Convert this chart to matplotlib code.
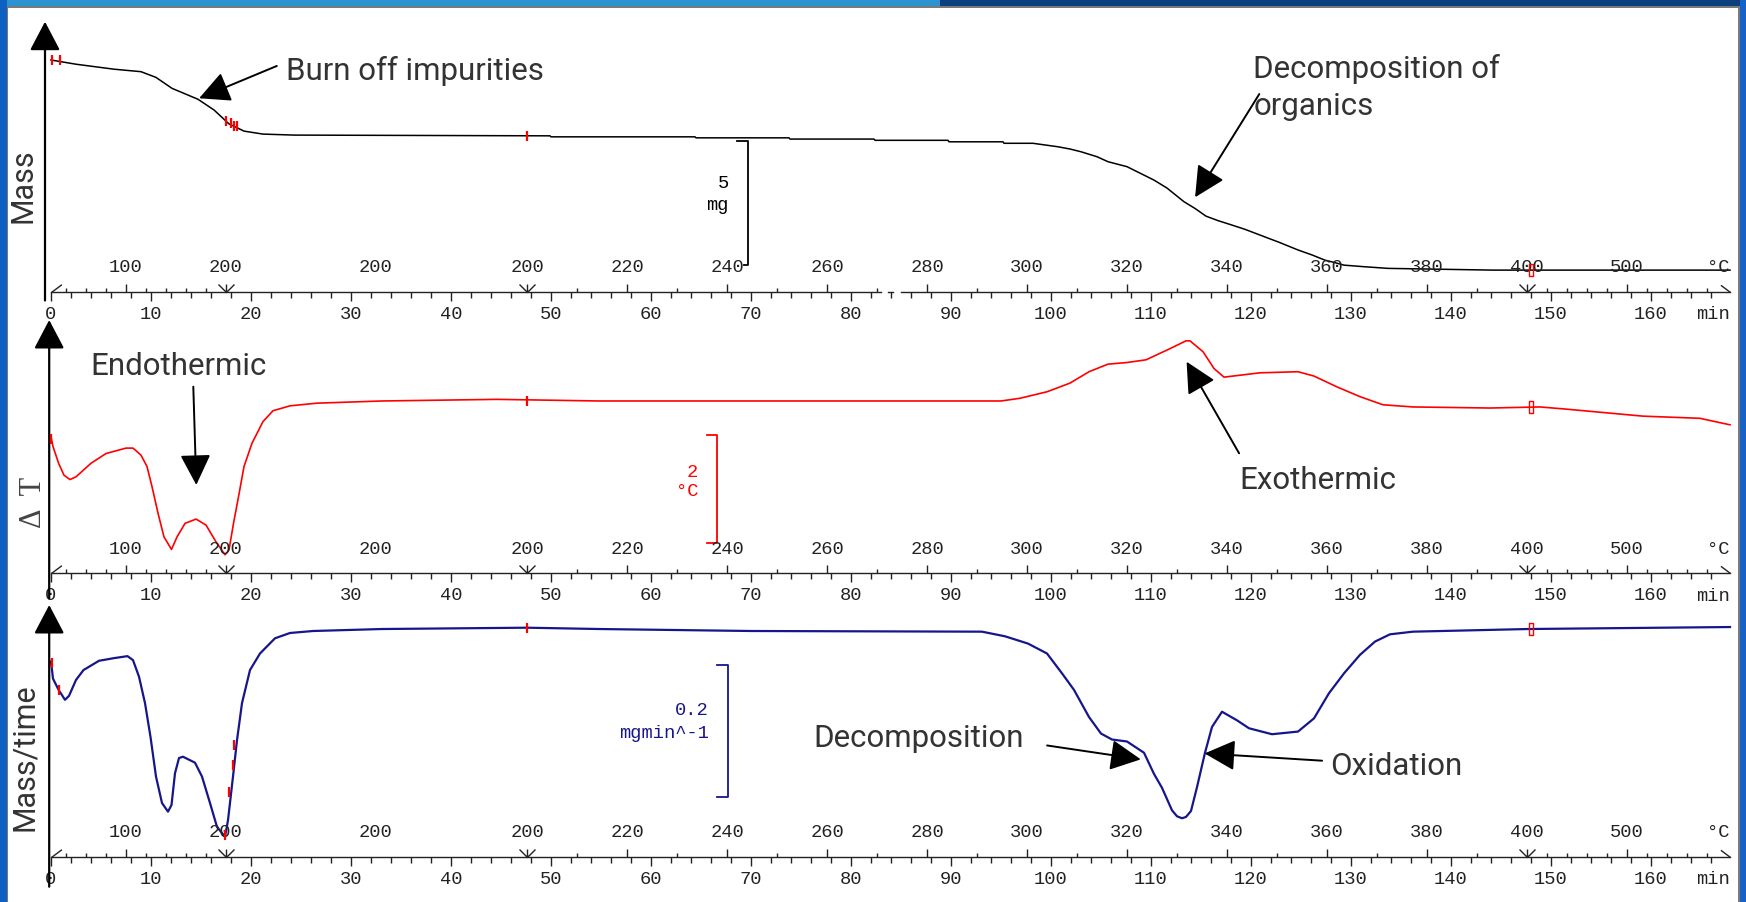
import numpy as np
import matplotlib.pyplot as plt
from matplotlib.path import Path
from matplotlib.patches import Rectangle

W, H = 1746, 902

# ---------------- values ----------------
# TG curve (mass, mg) against time (min)
mass_t = [0.0, 2.5, 6.3, 9.0, 10.5, 12.1, 14.7, 16.3, 17.8, 19.3, 21.2, 24.3, 49.9, 50.0,
          64.4, 64.5, 73.8, 73.9, 82.3, 82.4, 89.7, 89.8, 95.2, 95.3, 98.2, 100.7, 101.9,
          103.0, 104.6, 105.7, 107.6, 109.3, 110.3, 111.6, 113.3, 114.4, 115.5, 116.7,
          117.8, 119.4, 120.9, 122.8, 124.7, 126.1, 127.4, 128.4, 129.3, 131.2, 133.7,
          144.2, 167.9]
mass_mg = [20.00, 19.83, 19.63, 19.53, 19.30, 18.86, 18.42, 17.99, 17.43, 17.14, 17.02,
           16.98, 16.95, 16.91, 16.91, 16.87, 16.87, 16.82, 16.82, 16.77, 16.77, 16.71,
           16.71, 16.65, 16.65, 16.51, 16.42, 16.31, 16.11, 15.91, 15.71, 15.37, 15.17,
           14.85, 14.30, 14.03, 13.72, 13.54, 13.40, 13.19, 12.96, 12.67, 12.36, 12.16,
           11.95, 11.85, 11.75, 11.69, 11.62, 11.55, 11.55]

# DTA curve (delta T, degC)
dta_t = [0.0, 0.2, 0.76, 1.3, 1.9, 2.5, 4.0, 5.5, 7.5, 8.2, 9.0, 9.6, 10.1, 10.7, 11.3,
         12.05, 12.6, 13.4, 14.5, 15.5, 16.5, 17.4, 17.8, 18.25, 18.75, 19.3, 20.1, 21.2,
         22.2, 23.9, 26.6, 33.1, 44.6, 54.8, 95.0, 96.9, 99.6, 101.9, 103.8, 105.7, 107.6,
         109.5, 111.6, 113.5, 113.9, 115.2, 116.3, 117.3, 118.2, 120.9, 124.7, 126.3,
         128.6, 130.9, 133.2, 136.2, 143.9, 148.9, 151.5, 159.2, 164.9, 167.9]
dta_dT = [-0.66, -0.84, -1.15, -1.37, -1.45, -1.40, -1.15, -0.97, -0.87, -0.87, -1.00,
          -1.21, -1.58, -2.07, -2.51, -2.74, -2.51, -2.26, -2.18, -2.29, -2.60, -2.84,
          -2.75, -2.26, -1.77, -1.21, -0.78, -0.38, -0.18, -0.09, -0.04, 0.00, 0.03, 0.00,
          0.00, 0.05, 0.17, 0.33, 0.54, 0.68, 0.71, 0.76, 0.94, 1.11, 1.11, 0.91, 0.60,
          0.44, 0.46, 0.52, 0.54, 0.46, 0.26, 0.08, -0.07, -0.11, -0.13, -0.11, -0.15,
          -0.28, -0.32, -0.44]

# DTG curve (mg/min)
dtg_t = [0.0, 0.2, 0.76, 1.4, 1.8, 2.5, 3.25, 4.8, 6.3, 7.65, 8.2, 8.8, 9.4, 9.95, 10.5,
         11.1, 11.7, 12.05, 12.4, 12.8, 13.2, 14.4, 15.1, 15.9, 16.6, 17.4, 17.7, 18.2,
         18.6, 19.1, 19.9, 20.9, 22.4, 23.9, 26.2, 33.1, 47.6, 54.8, 70.0, 93.1, 95.4,
         97.7, 99.6, 101.1, 102.3, 103.8, 105.0, 106.1, 107.6, 109.3, 110.3, 111.1, 112.1,
         112.6, 113.1, 113.5, 114.0, 114.6, 115.4, 116.1, 117.1, 118.6, 119.8, 122.1,
         124.7, 126.3, 127.8, 129.3, 130.9, 132.4, 133.9, 136.2, 147.7, 167.9]
dtg_v = [-0.049, -0.075, -0.092, -0.107, -0.101, -0.077, -0.062, -0.048, -0.044, -0.041,
         -0.047, -0.072, -0.112, -0.163, -0.223, -0.263, -0.276, -0.266, -0.218, -0.195,
         -0.193, -0.202, -0.223, -0.263, -0.299, -0.314, -0.289, -0.223, -0.168, -0.112,
         -0.062, -0.037, -0.014, -0.006, -0.003, 0.000, 0.002, 0.000, -0.003, -0.004,
         -0.011, -0.022, -0.037, -0.067, -0.092, -0.133, -0.158, -0.167, -0.170, -0.187,
         -0.219, -0.240, -0.274, -0.283, -0.286, -0.284, -0.275, -0.239, -0.187, -0.148,
         -0.125, -0.138, -0.150, -0.159, -0.155, -0.135, -0.097, -0.067, -0.039, -0.019,
         -0.008, -0.004, 0.000, 0.003]

# time axis and temperature programme
minute_ticks = list(range(0, 161, 10))
minute_minor = list(range(2, 167, 2))
temp_lbl_t = [7.5, 17.5, 32.5, 47.6, 57.6, 67.6, 77.6, 87.6, 97.6, 107.6, 117.6, 127.6,
              137.6, 147.6, 157.6]
temp_lbl = ['100', '200', '200', '200', '220', '240', '260', '280', '300', '320', '340',
            '360', '380', '400', '500']
temp_major_t = [7.5, 57.6, 67.6, 77.6, 87.6, 97.6, 107.6, 117.6, 127.6, 137.6, 157.6]
temp_minor_t = [1.5, 3.5, 5.5, 9.5, 11.5, 13.5, 15.5,
                52.6, 62.6, 72.6, 82.6, 92.6, 102.6, 112.6, 122.6, 132.6, 142.6,
                149.6, 151.6, 153.6, 155.6, 159.6, 161.6, 163.6, 165.6]
segment_t = [17.5, 47.6, 147.6]
t_end = 167.9

# red event marks on each curve
mark_mass_t = [0.1, 0.85, 17.5, 17.95, 18.3, 18.6, 47.6]
mark_mass = [20.0, 20.0, 17.55, 17.45, 17.35, 17.33, 16.95]
mark_dta_t = [0.0, 47.6]
mark_dta = [-0.70, 0.0]
mark_dtg_t = [0.1, 0.75, 18.3, 18.2, 17.8, 17.4, 47.6]
mark_dtg = [-0.052, -0.092, -0.175, -0.205, -0.247, -0.312, 0.002]
box_t = 148.0
box_vals = [11.55, -0.11, 0.0]

# scale bars: (time, top value, length, value label, unit)
bars = [(69.7, 16.754, 5, '5', 'mg'),
        (66.62, -0.628, 2, '2', '°C'),
        (67.69, -0.0544, 0.2, '0.2', 'mgmin^-1')]

# annotations: (panel, text, text position, arrow tail, arrow tip)
notes = [(0, 'Burn off impurities', (23.53, 19.196), (22.58, 19.76), (14.81, 18.46)),
         (0, 'Decomposition of', (120.23, 19.264), (120.83, 18.63), (114.41, 14.48)),
         (1, 'Endothermic', (3.9, 0.48), (14.23, 0.264), (14.53, -1.55)),
         (1, 'Exothermic', (118.81, -1.63), (118.81, -0.966), (113.56, 0.725)),
         (2, 'Decomposition', (76.23, -0.178), (99.61, -0.176), (108.98, -0.197)),
         (2, 'Oxidation', (127.91, -0.2206), (127.11, -0.199), (115.36, -0.188))]
note_extra = (0, 'organics', (120.23, 17.788))

colors = ['black', '#ff0000', '#16168a']

# ---------------- layout (pixels) ----------------
x0_px, px_per_min, right_px = 51.0, 10.0, 1736.0
p_left = [45.0, 49.2, 49.2]
p_top = [21.7, 320.0, 605.0]
p_bot = [291.5, 573.3, 856.7]
p_ylim = [(10.69, 21.54), (-3.181, 1.495), (-0.3441, 0.0363)]
p_ext = [9.0, 25.0, 30.0]

plt.rcParams['font.family'] = ['Roboto', 'DejaVu Sans']
MONO = 'Liberation Mono'
TXT = '#333333'
INK = '#222222'

fig = plt.figure(figsize=(W / 100, H / 100), dpi=100)
fig.patch.set_facecolor('white')


# window frame
def frect(x0, y0, x1, y1, c):
    fig.patches.append(Rectangle((x0 / W, 1 - y1 / H), (x1 - x0) / W, (y1 - y0) / H,
                                 transform=fig.transFigure, color=c, zorder=0, lw=0))


frect(0, 0, 940, 5.5, '#2b93cf')
frect(940, 0, W, 5.5, '#0b3f7e')
frect(0, 5.5, W, 7.5, '#7a7a7a')
frect(0, 0, 6.7, H, '#0e60c2')
frect(6.7, 7.5, 8.0, H, '#7a7a7a')
frect(1739.5, 0, W, H, '#1762c6')
frect(1738.0, 7.5, 1739.5, H, '#7a7a7a')

up_tick = Path([(0, 0), (0, 1)])
v_mark = Path([(-1, 1), (0, 0), (1, 1), (0, 1), (0, 0)],
              [Path.MOVETO, Path.LINETO, Path.LINETO, Path.MOVETO, Path.LINETO])
start_mark = Path([(0, 0), (1, 0.75)])
end_mark = Path([(0, 0), (-1, 0.75)])
box_mark = Path([(-0.33, -1), (0.33, -1), (0.33, 1), (-0.33, 1), (-0.33, -1)])

axes = []
for i in range(3):
    L, T, B = p_left[i], p_top[i], p_bot[i]
    ax = fig.add_axes([L / W, 1 - B / H, (right_px - L) / W, (B - T) / H])
    ax.set_xlim((L - x0_px) / px_per_min, (right_px - x0_px) / px_per_min)
    ax.set_ylim(*p_ylim[i])
    ax.patch.set_visible(False)
    for s in ax.spines.values():
        s.set_visible(False)
    ax.set_yticks([])
    ax.set_xticks(minute_ticks, labels=[str(m) for m in minute_ticks])
    ax.set_xticks(minute_minor, minor=True)
    ax.tick_params(axis='x', which='major', direction='out', length=6.6, width=1.0,
                   pad=3.5, labelsize=13.5, labelfontfamily=MONO, color=INK,
                   labelcolor=INK)
    ax.tick_params(axis='x', which='minor', direction='out', length=4.2, width=1.0,
                   color=INK)

    tr = ax.get_xaxis_transform()
    kw = dict(transform=tr, color=INK, lw=1.0, clip_on=False)
    if i == 0:
        ax.plot([0, 83.0], [0, 0], **kw)
        ax.plot([83.7, 84.2], [0, 0], **kw)
        ax.plot([85.0, t_end], [0, 0], **kw)
    else:
        ax.plot([0, t_end], [0, 0], **kw)
    mk = dict(transform=tr, ls='none', mec=INK, mfc='none', mew=1.0, clip_on=False)
    ax.plot(temp_minor_t, [0] * len(temp_minor_t), marker=up_tick, ms=6.4, **mk)
    ax.plot(temp_major_t, [0] * len(temp_major_t), marker=up_tick, ms=11, **mk)
    ax.plot(segment_t, [0] * len(segment_t), marker=v_mark, ms=11.5, **mk)
    ax.plot([0], [0], marker=start_mark, ms=15, **mk)
    ax.plot([t_end], [0], marker=end_mark, ms=13.8, **mk)
    for t, s in zip(temp_lbl_t, temp_lbl):
        ax.annotate(s, xy=(t, 0), xycoords=tr, xytext=(0, 17.3), textcoords='offset points',
                    ha='center', va='center', fontsize=13.5, family=MONO, color=INK)
    ax.annotate('°C', xy=(t_end, 0), xycoords=tr, xytext=(0, 17.3), textcoords='offset points',
                ha='right', va='center', fontsize=13.5, family=MONO, color=INK)
    ax.annotate('min', xy=(t_end, 0), xycoords=tr, xytext=(0, -16.6),
                textcoords='offset points', ha='right', va='center', fontsize=13.5,
                family=MONO, color=INK)

    # vertical arrow axis
    ext = -p_ext[i] / (B - T)
    ax.annotate('', xy=(0, 1), xycoords='axes fraction', xytext=(0, ext),
                textcoords='axes fraction',
                arrowprops=dict(arrowstyle='-|>,head_length=0.4,head_width=0.21',
                                mutation_scale=45, lw=1.6, color='black',
                                shrinkA=0, shrinkB=0))
    axes.append(ax)

# curves
axes[0].plot(mass_t, mass_mg, color=colors[0], lw=1.1)
axes[1].plot(dta_t, dta_dT, color=colors[1], lw=1.2)
axes[2].plot(dtg_t, dtg_v, color=colors[2], lw=1.6)

# red event marks
for ax, mt, mv in zip(axes, [mark_mass_t, mark_dta_t, mark_dtg_t],
                      [mark_mass, mark_dta, mark_dtg]):
    ax.plot(mt, mv, ls='none', marker='|', ms=7.5, mew=1.6, color='#ff0000', zorder=5)
for ax, v in zip(axes, box_vals):
    ax.plot([box_t], [v], ls='none', marker=box_mark, ms=8.6, mew=1.0, mfc='none',
            mec='#ff0000', zorder=5)

# scale bars
for k, (ax, (bt, top, length, lbl, unit), c) in enumerate(zip(axes, bars, colors)):
    dx = 1.07
    foot = 0.45 if k == 0 else dx
    ax.plot([bt - dx, bt, bt, bt - foot], [top, top, top - length, top - length],
            color=c, lw=1.3)
    tx = bt - (1.9 if k == 0 else 1.9)
    ax.text(tx, top - length * 0.345, lbl, ha='right', va='center', fontsize=13.5,
            family=MONO, color=c)
    ax.text(tx, top - length * 0.52, unit, ha='right', va='center', fontsize=13.5,
            family=MONO, color=c)

# annotations
arrow_kw = dict(arrowstyle='-|>,head_length=0.5,head_width=0.25', mutation_scale=38,
                lw=1.4, color='black', shrinkA=0, shrinkB=0)
for p, text, tpos, tail, tip in notes:
    axes[p].text(tpos[0], tpos[1], text, ha='left', va='baseline', fontsize=22.5,
                 color=TXT)
    axes[p].annotate('', xy=tip, xytext=tail, arrowprops=arrow_kw)
p, text, tpos = note_extra
axes[p].text(tpos[0], tpos[1], text, ha='left', va='baseline', fontsize=22.5, color=TXT)

# y labels
fig.text(23 / W, 1 - 186 / H, 'Mass', rotation=90, ha='center', va='center',
         fontsize=22, color=TXT)
fig.text(33.5 / W, 1 - 502 / H, 'Δ  T', rotation=90, ha='center', va='center',
         fontsize=22, color='#444444', family=['Liberation Serif', 'DejaVu Serif'])
fig.text(24.7 / W, 1 - 757 / H, 'Mass/time', rotation=90, ha='center', va='center',
         fontsize=22, color=TXT)

fig.savefig('out.png', dpi=100, facecolor='white')
